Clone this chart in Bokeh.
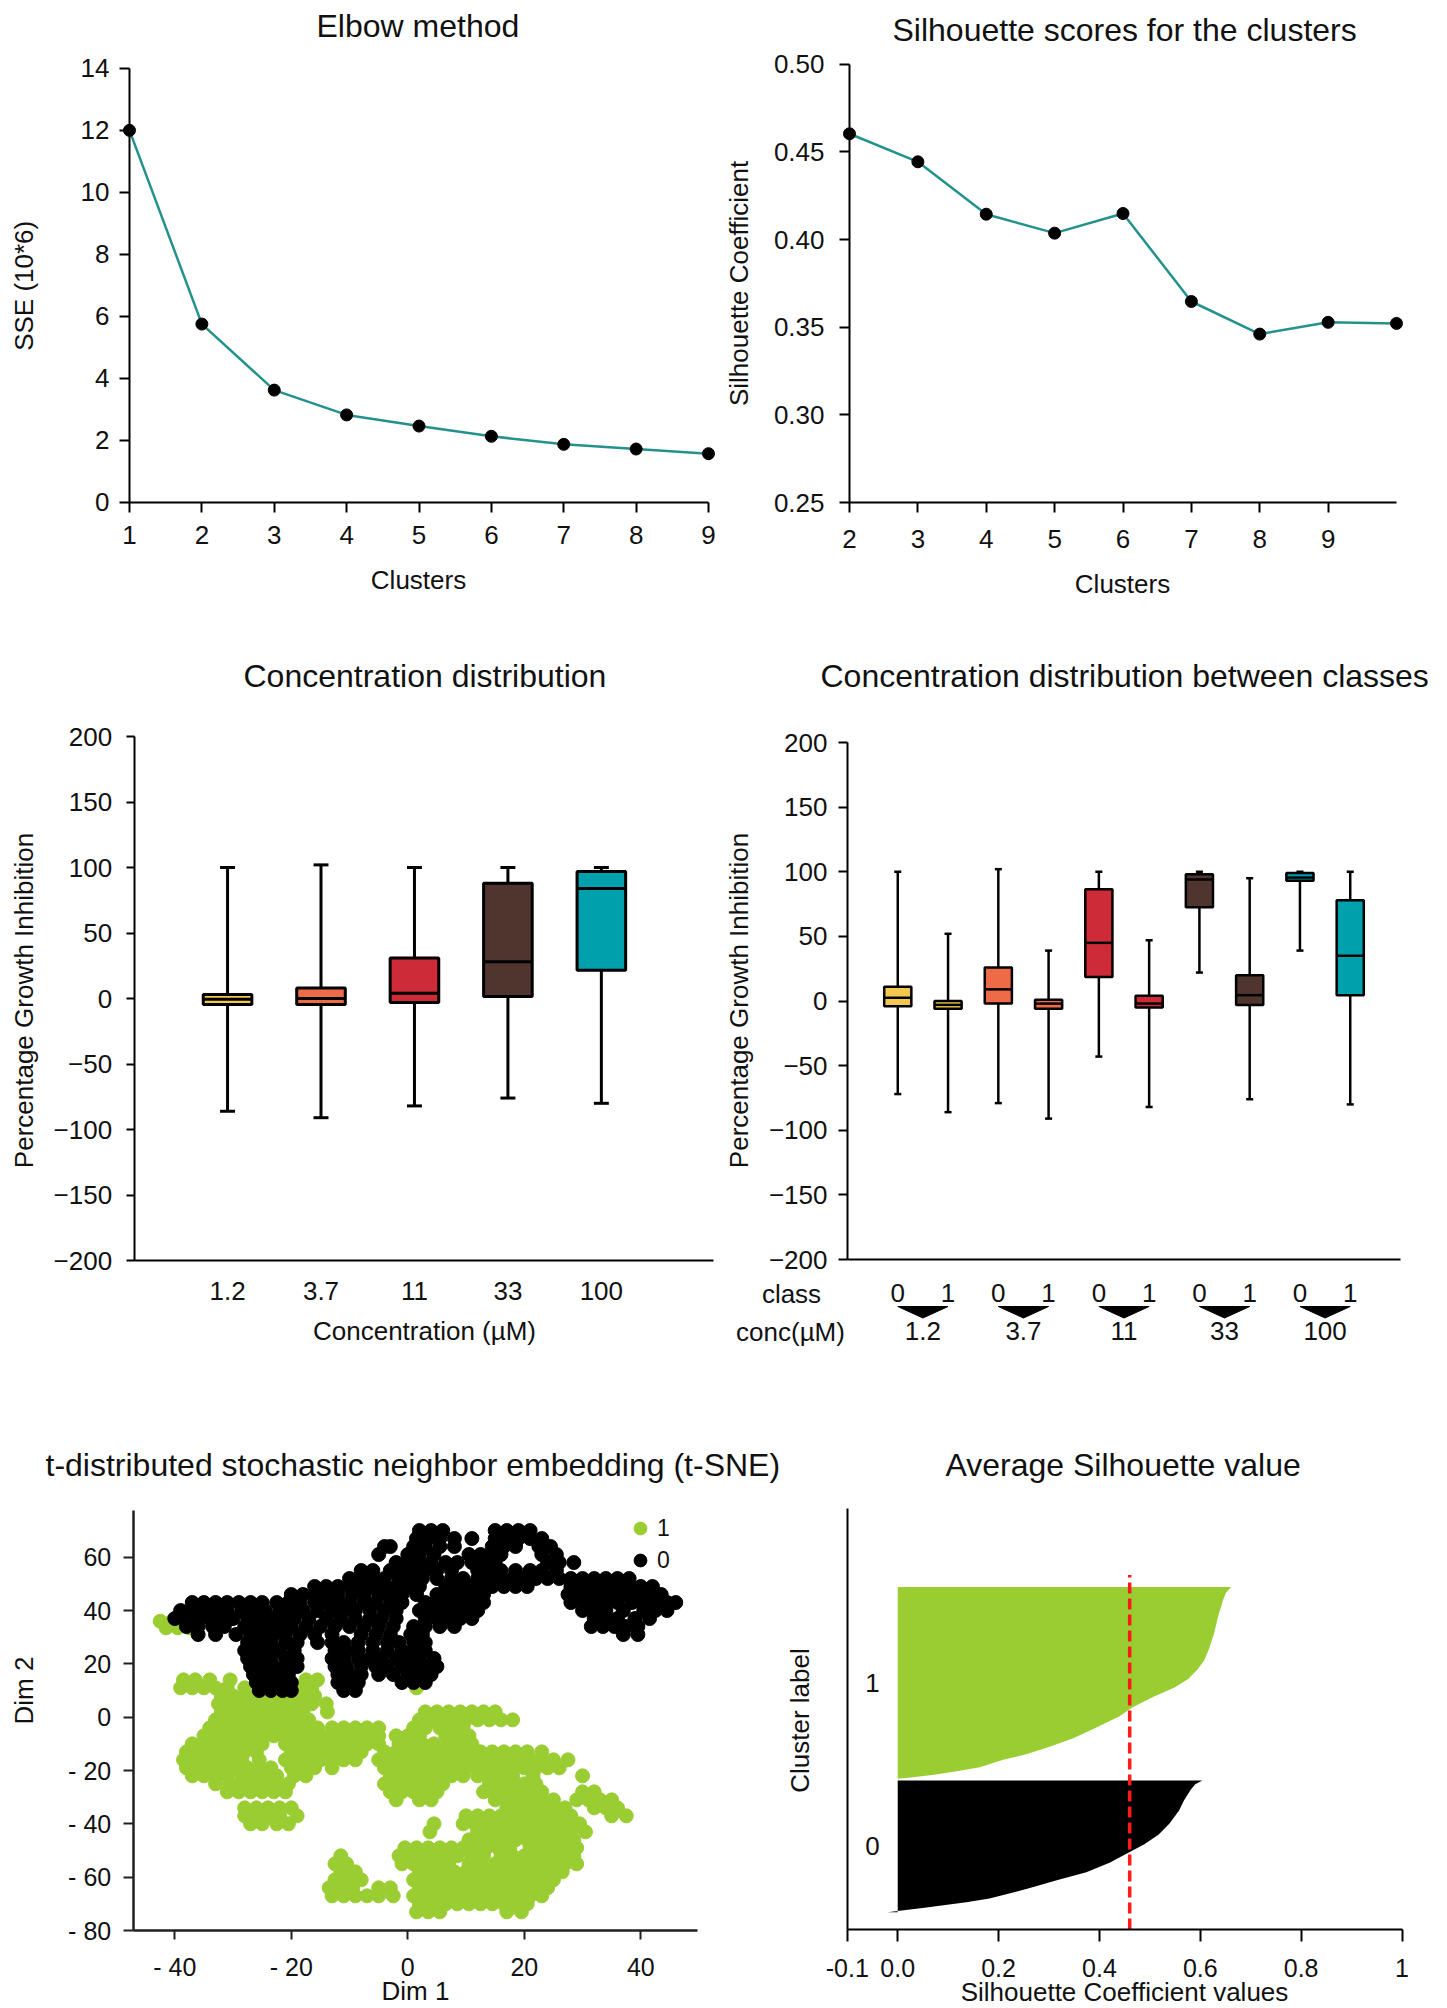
import math
from bokeh.plotting import figure
from bokeh.layouts import column, row
from bokeh.models import (FixedTicker, Range1d, Legend, LegendItem, LinearAxis,
                          PrintfTickFormatter)
from bokeh.embed import file_html
from bokeh.resources import INLINE
from bokeh.core.properties import value

FONT = "Liberation Sans"
TXT = "#111111"
TEAL = "#23918c"
GREEN = "#9acd32"

# ---------------- data ----------------
elbow_k = [1, 2, 3, 4, 5, 6, 7, 8, 9]
elbow_sse = [12.0, 5.75, 3.62, 2.82, 2.46, 2.13, 1.87, 1.72, 1.57]
elbow_yticks = [0, 2, 4, 6, 8, 10, 12, 14]

score_k = [2, 3, 4, 5, 6, 7, 8, 9, 10]
score_val = [0.4604, 0.4444, 0.4145, 0.4037, 0.4149, 0.3647, 0.3461, 0.3528, 0.3522]
score_xticks = [2, 3, 4, 5, 6, 7, 8, 9]
score_yticks = [0.25, 0.30, 0.35, 0.40, 0.45, 0.50]

conc_labels = ["1.2", "3.7", "11", "33", "100"]
conc_colors = ["#f2c94e", "#ee6b47", "#cc2b37", "#4f352d", "#00a0ad"]
conc_min = [-86, -91, -82, -76, -80]
conc_q1 = [-4.5, -4.5, -3, 1.5, 21.5]
conc_median = [-0.5, 0, 4, 28, 84]
conc_q3 = [3, 8, 31, 88, 97]
conc_max = [100, 102, 100, 100, 100]

gi_ticks = [-200, -150, -100, -50, 0, 50, 100, 150, 200]

class_labels = ["0", "1", "0", "1", "0", "1", "0", "1", "0", "1"]
cls_min = [-72, -86, -79, -91, -43, -82, 22, -76, 39, -80]
cls_q1 = [-4, -6, -2, -6, 18.5, -5, 72.5, -3, 93, 4.5]
cls_median = [2.5, -3, 9, -2, 45, -2, 94, 4.5, 95.5, 35]
cls_q3 = [11, 0, 26, 1, 86.5, 4, 98, 20, 99, 78]
cls_max = [100, 52, 102, 39, 100, 47, 100, 95, 100, 100]

# t-SNE embedding: (Dim 2, [Dim 1 values])
tsne_class0_rows = [
    (70, [2, 4, 6, 15, 17, 19, 21]),
    (67, [1.5, 3.5, 5.5, 8, 11, 15, 17, 19, 21, 23]),
    (64, [-4, -3, 1, 3, 5.5, 8, 14.5, 16.5, 18.5, 22.5, 24.5]),
    (61, [-5, 0, 2, 4.5, 10.5, 12.5, 14.5, 16, 23, 25.5]),
    (58, [-2, 0, 2, 4, 6.5, 8.5, 11, 13, 15, 24, 26, 28.5]),
    (55, [-8, -6, -3, -1, 1, 3, 5, 7.5, 12, 14, 16, 18.5, 21, 23, 25.5]),
    (52, [-10, -8, -6, -4, -1.5, 0.5, 2.5, 5, 7.5, 9.5, 12, 14, 16, 18, 20, 22, 24, 26,
          28, 30, 32, 34, 36, 38]),
    (49, [-16, -14, -12, -10, -8, -6, -4, -2, 0, 2, 6.5, 8.5, 10.5, 12.5, 14.5, 16.5, 18.5,
          20.5, 28, 30, 32, 34, 36, 38, 40, 42]),
    (46, [-20, -18, -16, -14, -12, -9.5, -7.5, -5, -3, -1, 1.5, 5, 7, 9, 11, 13, 27.5, 29.5,
          31.5, 33.5, 35.5, 37.5, 39.5, 41.5, 43.5]),
    (43, [-37, -35, -33, -31, -29, -27, -25, -22.5, -20.5, -18.5, -16, -14, -12, -10, -7.5,
          -5.5, -3, -1, 3, 5, 7, 9, 11, 13, 28, 30, 32, 34, 36, 38.5, 40.5, 42.5, 44.5, 46]),
    (40, [-39, -37, -35, -33, -31, -28.5, -26.5, -24.5, -22, -20, -18, -15.5, -13, -11, -9,
          -6.5, -4, -2, 2, 4, 6, 8, 10, 12, 30, 32, 34, 37, 40.5, 42.5, 44.5]),
    (37, [-40, -38, -36, -34, -32, -30, -27.5, -25.5, -23.5, -21.5, -19.5, -17, -14, -11.5,
          -9, -6.5, -4.5, -2, 3, 5, 7, 9, 11, 32, 34, 36, 39, 41.5]),
    (34, [-38, -36, -33.5, -31.5, -28, -26, -24, -22, -20, -17.5, -15, -12.5, -10, -7.5, -5,
          -2.5, 1, 3, 5.5, 8, 31.5, 33.5, 35.5, 37.5, 39.5]),
    (31, [-36, -33, -29.5, -27, -25, -23, -21, -18.5, -16, -13, -8, -5.5, -3, 0.5, 2.5, 37, 39.5]),
    (28, [-27.5, -25.5, -23.5, -21, -19, -15.5, -13, -11, -8.5, -6, -3.5, -1.5, 1, 3]),
    (25, [-28, -26, -24, -22, -19.5, -12.5, -10.5, -8.5, -6, -3.5, -1, 1, 3]),
    (22, [-27.5, -25.5, -23.5, -21, -19, -13, -11, -8.5, -6.5, -4.5, -2, 0, 2, 4.5]),
    (19, [-27, -25, -23, -21, -19, -12.5, -10.5, -8, -5.5, -3.5, -1, 1, 3, 5]),
    (16, [-26.5, -24.5, -22.5, -20.5, -12, -10, -8, -5, -2.5, 0, 2, 4]),
    (13, [-26, -24, -22, -20, -12, -10, -8.5, -1, 1, 3]),
    (10, [-25.5, -23.5, -21.5, -20, -11, -9]),
]
tsne_class1_rows = [
    (36, [-42.5, -40.5]),
    (33.5, [-41.5, -39.5, -37.5]),
    (14, [-38.5, -36.5, -34, -30.5, -26, -24, -17.5, -15.5]),
    (11, [-39, -37, -35, -33, -31, -28, -19, -16.5, 1.5]),
    (8, [-32, -30, -28, -26, -24, -22, -20, -18, -16]),
    (5, [-32.5, -30.5, -28.5, -26.5, -24.5, -22.5, -20.5, -18.5, -16.5, -14]),
    (2, [-32, -30, -28, -26, -24, -22, -20, -18, -13.8, 3, 5, 7, 9, 11, 13, 15]),
    (-1, [-33, -31, -29, -27, -25, -23, -21, -19, -17, 2, 4, 6, 8, 10, 12, 14, 16, 18]),
    (-4, [-34, -32, -30, -28, -26, -24, -22, -20, -18, -15.5, -13, -11, -9, -7, -5, 1, 3,
          5.5, 7.5, 9.5]),
    (-7, [-35, -33, -31, -29, -27, -25, -23, -21, -19, -17, -15, -13, -11, -9, -7, -5, -2, 0,
          2, 6.5, 8.5, 10.5]),
    (-10, [-37, -35, -33, -31, -29, -27, -25, -21, -19, -17, -15, -13, -11, -9, -7, -5, -1.5,
           0.5, 2.5, 4.5, 7, 9, 11]),
    (-13, [-38, -36, -34, -32, -30, -28, -26, -20, -18, -16, -14, -12, -10, -8, -4, -2, 0, 2,
           4, 6, 8.5, 10.5, 12.5, 14.5, 16.5, 18.5, 20.5, 23]),
    (-16, [-38.5, -36.5, -34.5, -32.5, -30.5, -28.5, -25.5, -21, -19, -17, -15, -13, -11, -9,
           -5, -3, -1, 1, 3, 5, 7, 9, 11, 13, 15, 17, 19, 21, 23, 25, 27.5]),
    (-19, [-38, -36, -34, -32, -30, -27.5, -25.5, -23.5, -20, -18, -16, -13, -4, -2, 0, 2, 4,
           6, 8, 10, 12, 14, 16, 18, 20, 22, 24, 26]),
    (-22, [-37, -35, -33, -31, -28.5, -26.5, -24.5, -22.5, -19.5, -17.5, -3, -1, 1, 3, 5, 7.5,
           9.5, 12, 14, 16, 18, 21.5, 30]),
    (-25, [-33, -30.5, -28.5, -26.5, -24.5, -22.5, -20.5, -4, -2, 0, 2, 4, 6, 14, 16, 18, 20, 22]),
    (-28, [-31, -29, -27, -25, -23, -21, -3, -1, 1, 3, 5, 13, 15, 17, 19, 21, 23, 30, 32]),
    (-31, [-2, 2, 4, 15, 17, 19, 21, 23, 25, 29, 31, 33, 35]),
    (-34, [-28, -26, -24, -22, -20, 17, 19, 21, 23, 25, 27, 32, 34, 36]),
    (-37, [-28, -26, -24, -22, -19, 10, 12, 14, 16, 18, 20, 22, 24, 26, 28, 35, 37.5]),
    (-40, [-27, -25, -22.5, -20.5, 4.5, 9.5, 11.5, 13.5, 15.5, 17.5, 19.5, 21.5, 23.5, 25.5,
           27.5, 29.5]),
    (-43, [3.8, 12, 14, 16, 18, 20, 22, 24, 26, 28, 30.5]),
    (-46, [10.5, 12.5, 14.5, 16.5, 18.5, 20.5, 22.5, 24.5, 26.5, 28.5]),
    (-49, [-0.5, 1.5, 3.5, 5.5, 7.5, 9.5, 11.5, 13.5, 15.5, 17.5, 21, 23, 25, 27, 29]),
    (-52, [-11.5, -1.5, 0.5, 2.5, 4.5, 6.5, 8.5, 11, 13, 16, 18, 20, 22, 24, 26, 28.5]),
    (-55, [-12.5, -10.5, -1, 1, 3, 5, 7, 10.5, 12.5, 15, 17, 19, 21, 23, 25, 27, 29]),
    (-58, [-11.5, -9, 2, 4, 6, 8, 10, 12, 14, 16, 18, 20, 22, 24, 26.5]),
    (-61, [-12.5, -10.5, -8, 1, 3, 5, 7, 9, 11, 13, 15, 17, 19, 21, 23, 25]),
    (-64, [-13.5, -11.5, -9.5, -5, -3, 2, 4, 6, 8, 10, 12, 14, 16, 18, 20, 22, 24]),
    (-67, [-13, -11, -9, -7, -5, -2.5, 1, 3, 5, 7, 9, 11, 13, 15, 17, 19, 21, 23]),
    (-70, [2, 4, 6.5, 8.5, 10.5, 12.5, 14.5, 16.5, 18.5, 20.5]),
    (-73, [1.5, 3.5, 5.5, 17, 19.5]),
]
tsne_xticks = [-40, -20, 0, 20, 40]
tsne_xlabels = ["- 40", "- 20", "0", "20", "40"]
tsne_yticks = [60, 40, 20, 0, -20, -40, -60, -80]
tsne_ylabels = ["60", "40", "20", "0", "- 20", "- 40", "- 60", "- 80"]

# silhouette profile (sorted values, fraction of cluster from bottom)
sil_cluster_sizes = [730, 1060]
sil0_frac = [0, 0.011, 0.034, 0.077, 0.105, 0.176, 0.247, 0.304, 0.375, 0.46, 0.517, 0.588,
             0.673, 0.773, 0.844, 0.929, 0.972, 1.0]
sil0_val = [-0.02, 0.0, 0.053, 0.136, 0.182, 0.255, 0.319, 0.374, 0.42, 0.461, 0.489, 0.517,
            0.539, 0.558, 0.567, 0.581, 0.59, 0.604]
sil1_frac = [0, 0.006, 0.02, 0.039, 0.059, 0.098, 0.127, 0.167, 0.21, 0.265, 0.324, 0.373,
             0.422, 0.476, 0.52, 0.569, 0.618, 0.676, 0.755, 0.853, 0.931, 0.971, 1.0]
sil1_val = [0.0, 0.026, 0.072, 0.117, 0.163, 0.209, 0.255, 0.301, 0.347, 0.393, 0.439, 0.466,
            0.503, 0.549, 0.576, 0.594, 0.608, 0.617, 0.627, 0.636, 0.645, 0.651, 0.661]
sil_average = 0.46
sil_xticks = [-0.1, 0.0, 0.2, 0.4, 0.6, 0.8, 1.0]
sil_xlabels = ["-0.1", "0.0", "0.2", "0.4", "0.6", "0.8", "1"]


# ---------------- layout helpers ----------------
def lin(p0, d0, p1, d1):
    """page pixel -> data value, linear"""
    return lambda px: d0 + (px - p0) * (d1 - d0) / (p1 - p0)


def style_axis(ax, tick_out=10):
    ax.axis_line_color = "black"
    ax.axis_line_width = 2
    ax.major_tick_line_color = "black"
    ax.major_tick_line_width = 2
    ax.major_tick_in = 0
    ax.major_tick_out = tick_out
    ax.minor_tick_line_color = None
    ax.major_label_text_font = FONT
    ax.major_label_text_font_size = "26px"
    ax.major_label_text_color = TXT


def make_fig(w, h, xr, yr, top, title, standoff, offset):
    p = figure(width=w, height=h, x_range=Range1d(*xr), y_range=Range1d(*yr),
               output_backend="svg", toolbar_location=None,
               min_border_left=0, min_border_right=0, min_border_top=top,
               min_border_bottom=0)
    p.title.text = title
    p.title.text_font = FONT
    p.title.text_font_size = "32px"
    p.title.text_font_style = "normal"
    p.title.text_color = TXT
    p.title.align = "left"
    p.title.offset = offset
    p.title.standoff = standoff
    p.grid.visible = False
    p.outline_line_color = None
    for ax in p.axis:
        style_axis(ax)
    return p


def label(p, x, y, txt, vertical=False, size="26px"):
    p.text(x=[x], y=[y], text=[txt], angle=math.pi / 2 if vertical else 0,
           text_font=value(FONT), text_font_size=size, text_color=TXT,
           text_align="center", text_baseline="middle")


def boxes(p, pos, q1, med, q3, lo, hi, colors, width, cap, lw):
    p.segment(x0=pos, y0=q3, x1=pos, y1=hi, line_color="black", line_width=lw)
    p.segment(x0=pos, y0=q1, x1=pos, y1=lo, line_color="black", line_width=lw)
    p.segment(x0=[x - cap for x in pos], y0=hi, x1=[x + cap for x in pos], y1=hi,
              line_color="black", line_width=lw)
    p.segment(x0=[x - cap for x in pos], y0=lo, x1=[x + cap for x in pos], y1=lo,
              line_color="black", line_width=lw)
    p.vbar(x=pos, width=width, bottom=q1, top=q3, fill_color=colors,
           line_color="black", line_width=lw)
    p.segment(x0=[x - width / 2 for x in pos], y0=med, x1=[x + width / 2 for x in pos], y1=med,
              line_color="black", line_width=lw)


# ---------------- panel 1: elbow ----------------
X1 = lin(129, 1, 708, 9)
Y1 = lin(501, 0, 64, 14)
p1 = make_fig(723, 620, (X1(0), X1(723)), (Y1(620), Y1(44)), 44, "Elbow method", 10, 316)
p1.xaxis.fixed_location = 0
p1.xaxis.bounds = (1, 9)
p1.yaxis.fixed_location = 1
p1.yaxis.bounds = (0, 14)
p1.xaxis.ticker = FixedTicker(ticks=elbow_k)
p1.yaxis.ticker = FixedTicker(ticks=elbow_yticks)
p1.xaxis.major_label_standoff = 14
p1.yaxis.major_label_standoff = 10
p1.line(elbow_k, elbow_sse, line_color=TEAL, line_width=2.5)
p1.scatter(elbow_k, elbow_sse, size=12, color="black")
label(p1, X1(418), Y1(579), "Clusters")
label(p1, X1(23), Y1(283), "SSE (10*6)", vertical=True)

# ---------------- panel 2: silhouette scores ----------------
X2 = lin(849, 2, 1396, 10)
Y2 = lin(501, 0.25, 59, 0.50)
p2 = make_fig(724, 620, (X2(723), X2(1447)), (Y2(620), Y2(43)), 43,
              "Silhouette scores for the clusters", 2, 169)
p2.xaxis.fixed_location = 0.25
p2.xaxis.bounds = (2, 10)
p2.yaxis.fixed_location = 2
p2.yaxis.bounds = (0.25, 0.50)
p2.xaxis.ticker = FixedTicker(ticks=score_xticks)
p2.yaxis.ticker = FixedTicker(ticks=score_yticks)
p2.yaxis.formatter = PrintfTickFormatter(format="%.2f")
p2.xaxis.major_label_standoff = 17
p2.yaxis.major_label_standoff = 15
p2.line(score_k, score_val, line_color=TEAL, line_width=2.5)
p2.scatter(score_k, score_val, size=12, color="black")
label(p2, X2(1122), Y2(583), "Clusters")
label(p2, X2(738), Y2(280), "Silhouette Coefficient", vertical=True)

# ---------------- panel 3: concentration distribution ----------------
conc_pos = [i + 1 for i in range(len(conc_labels))]
X3 = lin(133.6, 0, 713, 6.2)
Y3 = lin(1260, -200, 736, 200)
p3 = make_fig(723, 770, (X3(0), X3(723)), (Y3(1390), Y3(700)), 80,
              "Concentration distribution", 14, 243)
boxes(p3, conc_pos, conc_q1, conc_median, conc_q3, conc_min, conc_max, conc_colors,
      0.52, 0.08, 3)
p3.xaxis.fixed_location = -200
p3.xaxis.bounds = (0, 6.2)
p3.yaxis.fixed_location = 0
p3.yaxis.bounds = (-200, 200)
p3.xaxis.ticker = FixedTicker(ticks=conc_pos)
p3.xaxis.major_label_overrides = {x: s for x, s in zip(conc_pos, conc_labels)}
p3.xaxis.major_tick_out = 0
p3.xaxis.major_label_standoff = 21
p3.yaxis.ticker = FixedTicker(ticks=gi_ticks)
p3.yaxis.major_tick_out = 8
p3.yaxis.major_label_standoff = 14
label(p3, X3(424), Y3(1330), "Concentration (\u00b5M)")
label(p3, X3(23), Y3(1000), "Percentage Growth Inhibition", vertical=True)

# ---------------- panel 4: between classes ----------------
cls_pos = [i + 1 for i in range(len(class_labels))]
cls_colors = [c for c in conc_colors for _ in range(2)]
pair_centers = [cls_pos[2 * i] + 0.5 for i in range(len(conc_labels))]
X4 = lin(847, 0, 1400, 11)
Y4 = lin(1259, -200, 742, 200)
p4 = make_fig(724, 770, (X4(723), X4(1447)), (Y4(1390), Y4(700)), 80,
              "Concentration distribution between classes", 14, 97)
boxes(p4, cls_pos, cls_q1, cls_median, cls_q3, cls_min, cls_max, cls_colors,
      0.54, 0.07, 2.5)
p4.xaxis.fixed_location = -200
p4.xaxis.bounds = (0, 11)
p4.yaxis.fixed_location = 0
p4.yaxis.bounds = (-200, 200)
p4.xaxis.ticker = FixedTicker(ticks=cls_pos)
p4.xaxis.major_label_overrides = {x: s for x, s in zip(cls_pos, class_labels)}
p4.xaxis.major_tick_out = 0
p4.xaxis.major_label_standoff = 24
p4.yaxis.ticker = FixedTicker(ticks=gi_ticks)
p4.yaxis.major_tick_out = 9
p4.yaxis.major_label_standoff = 11
conc_axis = LinearAxis(fixed_location=-200, ticker=FixedTicker(ticks=pair_centers),
                       major_label_overrides={x: s for x, s in zip(pair_centers, conc_labels)})
style_axis(conc_axis, tick_out=0)
conc_axis.axis_line_color = None
conc_axis.major_tick_line_color = None
conc_axis.major_label_standoff = 62
p4.add_layout(conc_axis, "below")
tri_top = Y4(1306)
tri_tip = Y4(1317.5)
p4.patches(xs=[[c - 0.5, c + 0.5, c] for c in pair_centers],
           ys=[[tri_top, tri_top, tri_tip] for _ in pair_centers],
           fill_color="black", line_color="black")
label(p4, X4(791), Y4(1293), "class")
label(p4, X4(790), Y4(1331), "conc(\u00b5M)")
label(p4, X4(738), Y4(1000), "Percentage Growth Inhibition", vertical=True)

# ---------------- panel 5: t-SNE ----------------
t1x = [x for y, xs in tsne_class1_rows for x in xs]
t1y = [y for y, xs in tsne_class1_rows for x in xs]
t0x = [x for y, xs in tsne_class0_rows for x in xs]
t0y = [y for y, xs in tsne_class0_rows for x in xs]
X5 = lin(174.3, -40, 640.3, 40)
Y5 = lin(1716.7, 0, 1556.7, 60)
p5 = make_fig(781, 618, (X5(0), X5(781)), (Y5(2008), Y5(1490)), 100,
              "t-distributed stochastic neighbor embedding (t-SNE)", 16, 45)
r1 = p5.scatter(t1x, t1y, size=14, color=GREEN)
r0 = p5.scatter(t0x, t0y, size=14, color="black")
x_lo5, x_hi5 = X5(132.7), X5(696.7)
y_lo5, y_hi5 = Y5(1930), Y5(1510)
p5.xaxis.fixed_location = y_lo5
p5.xaxis.bounds = (x_lo5, x_hi5)
p5.yaxis.fixed_location = x_lo5
p5.yaxis.bounds = (y_lo5, y_hi5)
for ax in p5.axis:
    ax.axis_line_color = "#231f20"
    ax.axis_line_width = 2.5
    ax.major_tick_line_color = "#231f20"
    ax.major_label_text_font_size = "25px"
p5.xaxis.ticker = FixedTicker(ticks=tsne_xticks)
p5.xaxis.major_label_overrides = {x: s for x, s in zip(tsne_xticks, tsne_xlabels)}
p5.yaxis.ticker = FixedTicker(ticks=tsne_yticks)
p5.yaxis.major_label_overrides = {y: s for y, s in zip(tsne_yticks, tsne_ylabels)}
p5.xaxis.major_tick_out = 9
p5.xaxis.major_label_standoff = 13
p5.yaxis.major_label_standoff = 12
label(p5, X5(415), Y5(1990), "Dim 1")
label(p5, X5(23), Y5(1690), "Dim 2", vertical=True)
legend = Legend(items=[LegendItem(label="1", renderers=[r1]),
                       LegendItem(label="0", renderers=[r0])],
                location=(624, 432), border_line_color=None, background_fill_alpha=0,
                label_text_font=FONT, label_text_font_size="23px", label_text_color=TXT,
                glyph_width=32, glyph_height=32, label_height=24, spacing=-5, padding=0,
                margin=0, label_standoff=1)
p5.add_layout(legend)

# ---------------- panel 6: silhouette profile ----------------
gap = 10
y_low0 = gap
y_up0 = y_low0 + sil_cluster_sizes[0]
y_low1 = y_up0 + gap
y_up1 = y_low1 + sil_cluster_sizes[1]
X6 = lin(846.8, -0.1, 1401.5, 1.0)
Y6 = lin(1929, -85, 1508, 2245)
p6 = make_fig(666, 618, (X6(781), X6(1447)), (Y6(2008), Y6(1490)), 100,
              "Average Silhouette value", 16, 164)
p6.harea(x1=0, x2=sil0_val, y=[y_low0 + f * sil_cluster_sizes[0] for f in sil0_frac],
         fill_color="black")
p6.harea(x1=0, x2=sil1_val, y=[y_low1 + f * sil_cluster_sizes[1] for f in sil1_frac],
         fill_color=GREEN)
p6.segment(x0=[sil_average], y0=[-85], x1=[sil_average], y1=[y_up1 + 67],
           line_color="#ff1a1a", line_width=3.5, line_dash="11 5")
p6.text(x=[-0.05, -0.05], y=[(y_low1 + y_up1) / 2, (y_low0 + y_up0) / 2], text=["1", "0"],
        text_font=value(FONT), text_font_size="26px", text_color=TXT,
        text_align="center", text_baseline="middle")
p6.xaxis.fixed_location = -85
p6.xaxis.bounds = (-0.1, 1.0)
p6.yaxis.fixed_location = -0.1
p6.yaxis.bounds = (-85, 2245)
p6.xaxis.ticker = FixedTicker(ticks=sil_xticks)
p6.xaxis.major_label_overrides = {x: s for x, s in zip(sil_xticks, sil_xlabels)}
p6.xaxis.major_tick_out = 12
p6.xaxis.major_label_standoff = 17
p6.xaxis.major_label_text_font_size = "25px"
p6.yaxis.ticker = FixedTicker(ticks=[])
label(p6, X6(1124), Y6(1991), "Silhouette Coefficient values")
label(p6, X6(799), Y6(1720), "Cluster label", vertical=True)

layout = column(row(p1, p2), row(p3, p4), row(p5, p6))
open("out.html", "w").write(file_html(layout, INLINE, title="Clustering analysis"))
